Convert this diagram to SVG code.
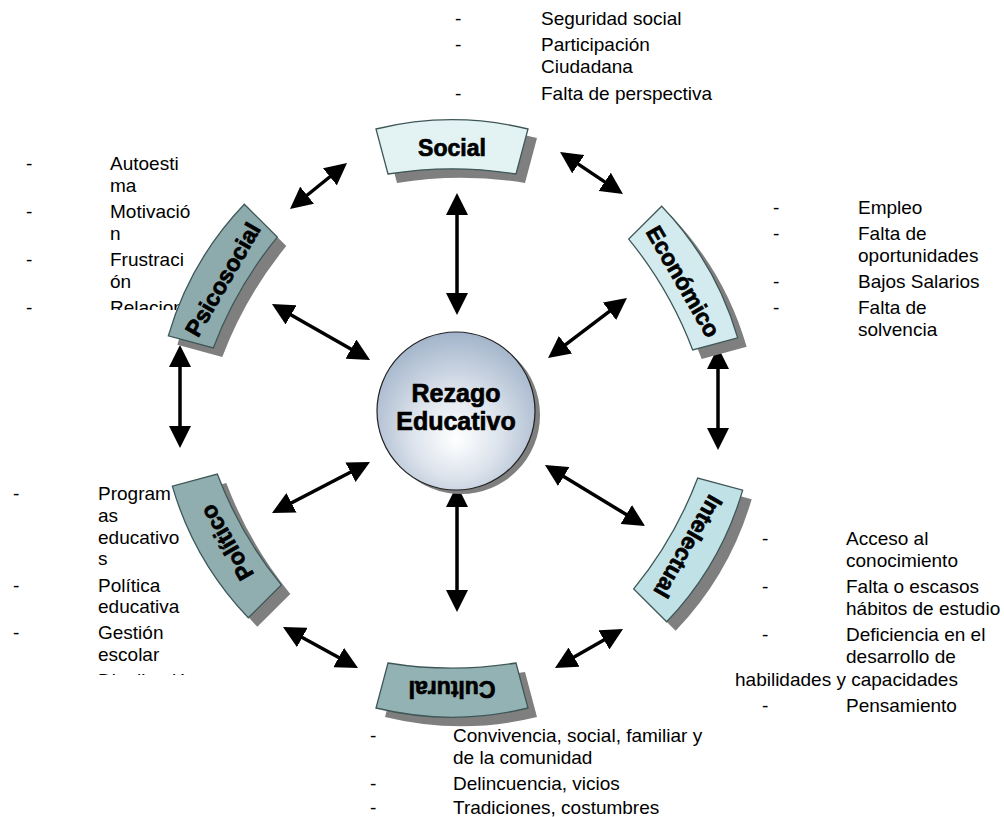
<svg xmlns="http://www.w3.org/2000/svg" xmlns:xlink="http://www.w3.org/1999/xlink" width="1004" height="817" viewBox="0 0 1004 817">
<style>
.t{font-family:"Liberation Sans",Arial,sans-serif;font-size:19px;fill:#000}
.lb{font-family:"Liberation Sans",Arial,sans-serif;font-size:23px;font-weight:bold;fill:#000;stroke:#000;stroke-width:0.7;text-anchor:middle}
.seg{stroke:#3F5757;stroke-width:1.3}
.sh{fill:#7F7F7F}
.ar{stroke:#000;stroke-width:3.5;fill:none;marker-start:url(#ah);marker-end:url(#ah)}
</style>
<defs>
<marker id="ah" viewBox="0 0 22 22" markerWidth="22" markerHeight="22" refX="14" refY="11" orient="auto-start-reverse" markerUnits="userSpaceOnUse">
<path d="M0,0 L22,11 L0,22 z" fill="#000"/>
</marker>
<path id="seg" d="M376,129 A320,320 0 0 1 528,129 L516,174 A400,400 0 0 0 388,174 Z"/>
<radialGradient id="cg" cx="50%" cy="60%" r="62%" fx="50%" fy="68%">
<stop offset="0" stop-color="#FFFFFF"/>
<stop offset="0.45" stop-color="#DCE3EC"/>
<stop offset="1" stop-color="#9FB1C8"/>
</radialGradient>
<clipPath id="c1"><rect x="0" y="140" width="240" height="170"/></clipPath>
<clipPath id="c2"><rect x="0" y="470" width="240" height="205"/></clipPath>
<clipPath id="c3"><rect x="700" y="520" width="304" height="200"/></clipPath>
</defs>
<rect width="1004" height="817" fill="#fff"/>

<g id="text-social" class="t">
<text x="455" y="25">-</text><text x="541" y="25">Seguridad social</text>
<text x="455" y="51">-</text><text x="541" y="51">Participación</text>
<text x="541" y="73">Ciudadana</text>
<text x="455" y="100">-</text><text x="541" y="100">Falta de perspectiva</text>
</g>
<g id="text-psicosocial" class="t" clip-path="url(#c1)">
<text x="26" y="170">-</text><text x="110" y="170">Autoesti</text>
<text x="110" y="192">ma</text>
<text x="26" y="218">-</text><text x="110" y="218">Motivació</text>
<text x="110" y="240">n</text>
<text x="26" y="266">-</text><text x="110" y="266">Frustraci</text>
<text x="110" y="288">ón</text>
<text x="26" y="314">-</text><text x="110" y="314">Relaciones</text>
</g>
<g id="text-economico" class="t">
<text x="773" y="214">-</text><text x="858" y="214">Empleo</text>
<text x="773" y="240">-</text><text x="858" y="240">Falta de</text>
<text x="858" y="262">oportunidades</text>
<text x="773" y="288">-</text><text x="858" y="288">Bajos Salarios</text>
<text x="773" y="314">-</text><text x="858" y="314">Falta de</text>
<text x="858" y="336">solvencia</text>
</g>
<g id="text-intelectual" class="t" clip-path="url(#c3)">
<text x="762" y="545">-</text><text x="846" y="545">Acceso al</text>
<text x="846" y="567">conocimiento</text>
<text x="762" y="593">-</text><text x="846" y="593">Falta o escasos</text>
<text x="846" y="615">hábitos de estudio</text>
<text x="762" y="641">-</text><text x="846" y="641">Deficiencia en el</text>
<text x="846" y="663">desarrollo de</text>
<text x="735" y="686">habilidades y capacidades</text>
<text x="762" y="712">-</text><text x="846" y="712">Pensamiento</text>
</g>
<g id="text-politico" class="t" clip-path="url(#c2)">
<text x="13" y="500">-</text><text x="98" y="500">Program</text>
<text x="98" y="522">as</text>
<text x="98" y="544">educativo</text>
<text x="98" y="565">s</text>
<text x="13" y="592">-</text><text x="98" y="592">Política</text>
<text x="98" y="613">educativa</text>
<text x="13" y="639">-</text><text x="98" y="639">Gestión</text>
<text x="98" y="661">escolar</text>
<text x="13" y="687">-</text><text x="98" y="687">Distribución</text>
</g>
<g id="text-cultural" class="t">
<text x="370" y="742">-</text><text x="453" y="742">Convivencia, social, familiar y</text>
<text x="453" y="764">de la comunidad</text>
<text x="370" y="790">-</text><text x="453" y="790">Delincuencia, vicios</text>
<text x="370" y="814">-</text><text x="453" y="814">Tradiciones, costumbres</text>
</g>

<g id="connectors">
<line class="ar" x1="457" y1="201" x2="457" y2="307"/>
<line class="ar" x1="457" y1="493" x2="457" y2="604"/>
<line class="ar" x1="296.2" y1="204" x2="340.8" y2="168"/>
<line class="ar" x1="566.7" y1="156.4" x2="616.3" y2="189.6"/>
<line class="ar" x1="278.9" y1="308" x2="363.1" y2="356"/>
<line class="ar" x1="554.4" y1="353.2" x2="620.6" y2="302.8"/>
<line class="ar" x1="180" y1="353" x2="180" y2="440"/>
<line class="ar" x1="718" y1="355" x2="718" y2="442"/>
<line class="ar" x1="362.9" y1="465.7" x2="279.1" y2="509.3"/>
<line class="ar" x1="551.8" y1="469.2" x2="638.2" y2="521.8"/>
<line class="ar" x1="290" y1="630.8" x2="351" y2="664.2"/>
<line class="ar" x1="561.9" y1="664" x2="616.1" y2="633"/>
</g>

<g id="social">
<use href="#seg" class="sh" transform="translate(9,9)"/>
<use href="#seg" class="seg" fill="#E3F3F4"/>
<text class="lb" x="452" y="156">Social</text>
</g>
<g id="economico">
<g transform="translate(9,9)"><use href="#seg" class="sh" transform="rotate(60 452 415)"/></g>
<use href="#seg" class="seg" fill="#D3EBEE" transform="rotate(60 452 415)"/>
<text class="lb" x="452" y="156" transform="rotate(60 452 415)">Económico</text>
</g>
<g id="intelectual" transform="translate(5,-2)">
<g transform="translate(9,9)"><use href="#seg" class="sh" transform="rotate(120 452 415)"/></g>
<use href="#seg" class="seg" fill="#C0E1E5" transform="rotate(120 452 415)"/>
<text class="lb" x="452" y="156" transform="rotate(120 452 415)">Intelectual</text>
</g>
<g id="cultural" transform="translate(0,7)">
<g transform="translate(9,9)"><use href="#seg" class="sh" transform="rotate(180 452 415)"/></g>
<use href="#seg" class="seg" fill="#93B2B4" transform="rotate(180 452 415)"/>
<text class="lb" x="452" y="156" transform="rotate(180 452 415)">Cultural</text>
</g>
<g id="politico" transform="translate(6,-6)">
<g transform="translate(9,9)"><use href="#seg" class="sh" transform="rotate(240 452 415)"/></g>
<use href="#seg" class="seg" fill="#90AEB0" transform="rotate(240 452 415)"/>
<text class="lb" x="452" y="156" transform="rotate(240 452 415)">Político</text>
</g>
<g id="psicosocial" transform="translate(2,-2)">
<g transform="translate(9,9)"><use href="#seg" class="sh" transform="rotate(300 452 415)"/></g>
<use href="#seg" class="seg" fill="#8DAAAC" transform="rotate(300 452 415)"/>
<text class="lb" x="452" y="156" transform="rotate(300 452 415)">Psicosocial</text>
</g>

<g id="rezago">
<circle cx="461" cy="415" r="79" fill="#7F7F7F"/>
<circle cx="456" cy="411" r="79" fill="url(#cg)" stroke="#222" stroke-width="1.2"/>
<text class="lb" x="456" y="402" style="font-size:25px">Rezago</text>
<text class="lb" x="456" y="430" style="font-size:25px">Educativo</text>
</g>
</svg>
